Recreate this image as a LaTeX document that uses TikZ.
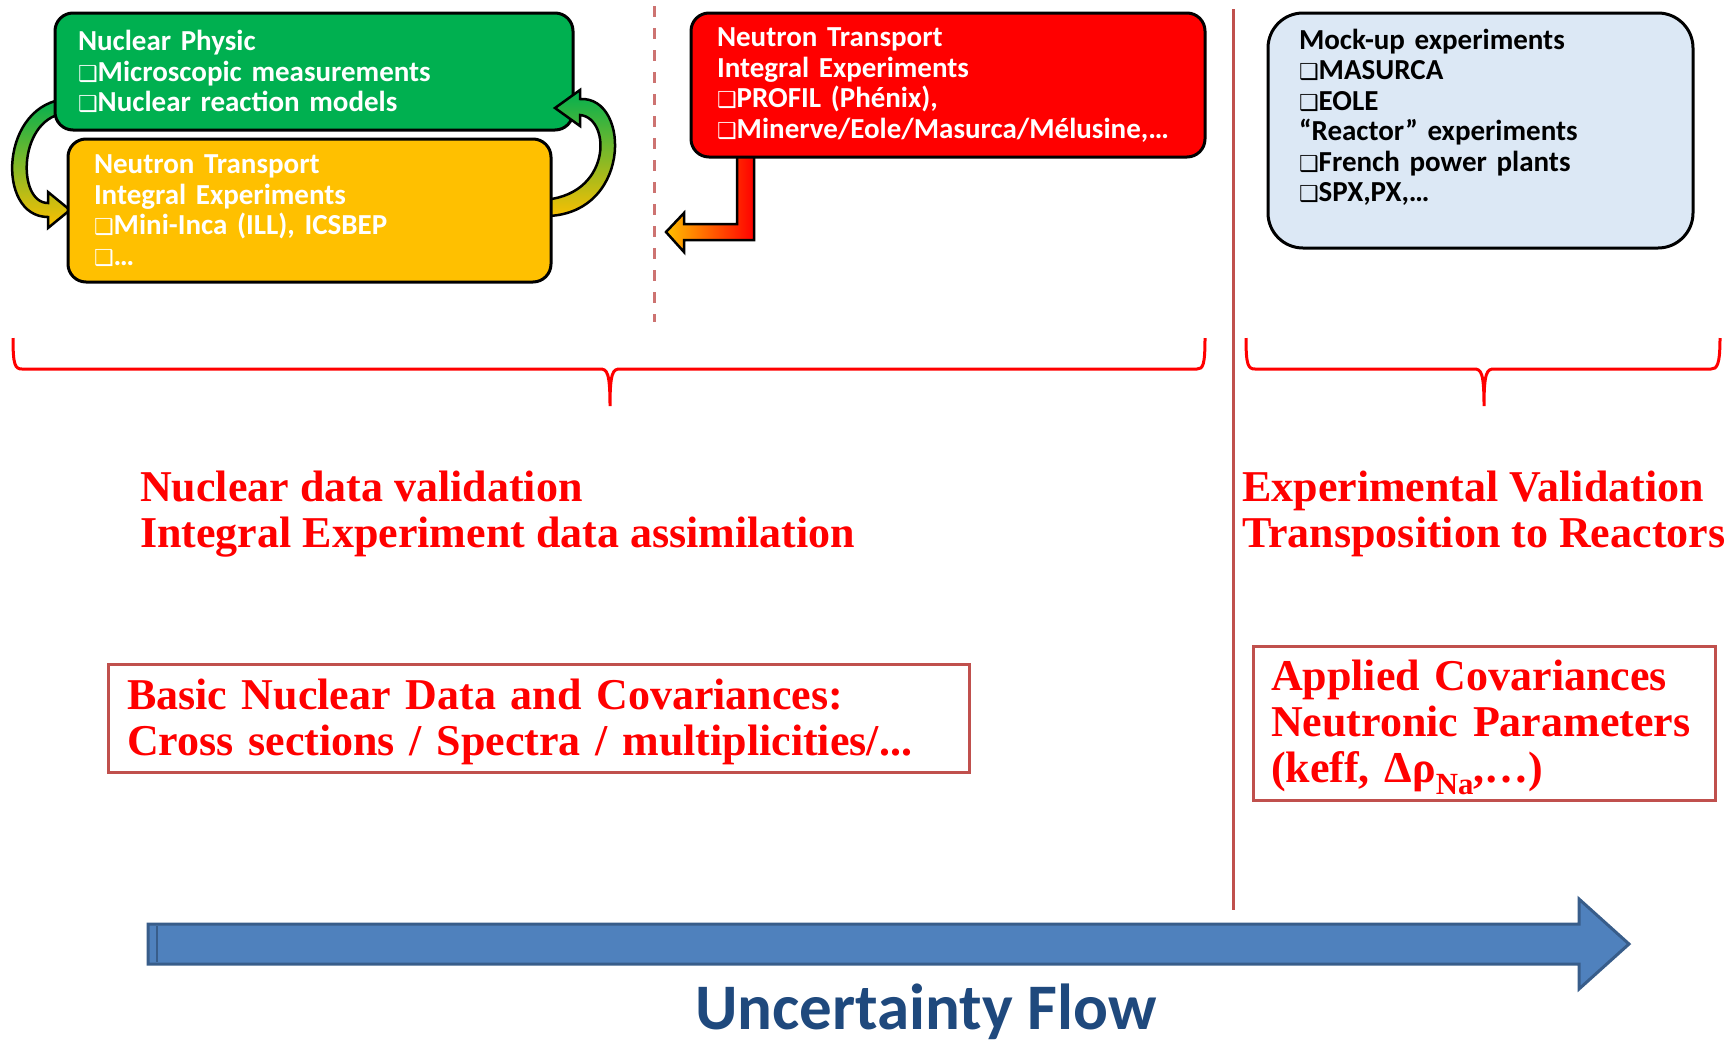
\documentclass[tikz,border=0pt]{standalone}
\usepackage{fontspec}
\setmainfont{Liberation Serif}
\newfontfamily\calfont{Carlito}
\newfontfamily\dingfont{DejaVu Sans}
\definecolor{physgreen}{RGB}{0,176,80}
\definecolor{benchyellow}{RGB}{255,192,0}
\definecolor{mockblue}{RGB}{220,232,245}
\definecolor{linered}{RGB}{192,80,77}
\definecolor{flowblue}{RGB}{79,129,189}
\definecolor{flowedge}{RGB}{56,93,138}
\definecolor{flowtext}{RGB}{31,73,125}
\newcommand\chk{{\dingfont\bfseries\fontsize{22}{22}\selectfont ❑}}
\begin{document}
\begin{tikzpicture}[x=1pt, y=-1pt,
        roundbox/.style={draw, line width=3pt, rounded corners=18pt, text=white, align=left,
            font=\calfont\bfseries\fontsize{29}{30.5}\selectfont, inner ysep=0pt},
        covbox/.style={draw=linered, line width=3pt, text=red, align=left, inner ysep=0pt,
            text height=39pt, font=\bfseries\fontsize{44}{46}\selectfont},
        redtext/.style={text=red, align=left, inner sep=0pt, anchor=west,
            font=\bfseries\fontsize{44}{46}\selectfont},
        brace/.style={draw=red, line width=3pt},
        curvearrow/.style={draw, line width=2.5pt, top color=physgreen, bottom color=benchyellow},
        sepline/.style={draw=linered, line width=3pt},
    ]
    \useasboundingbox (0,0) rectangle (1729,1042);
    % left loop arrow, tail under the green box
    \path[curvearrow] (68,99) .. controls (0,102) and (-5,217) .. (48,217) -- (48,228) -- (70,210)
        -- (48,192) -- (48,203) .. controls (16,203) and (18,115) .. (68,113) -- cycle;
    \node[roundbox, fill=physgreen, minimum width=518pt, minimum height=117pt,
        text width=472pt, inner xsep=23pt] (phys) at (314,71.5)
        {Nuclear Physic\\\chk Microscopic measurements\\\chk Nuclear reaction models};
    % right loop arrow, tail under the yellow box
    \path[curvearrow] (540,216) .. controls (632,220) and (632,96) .. (580,99) -- (580,90) -- (555,108)
        -- (580,126) -- (580,115) .. controls (612,118) and (612,198) .. (540,200) -- cycle;
    \node[roundbox, fill=benchyellow, minimum width=483pt, minimum height=143pt,
        text width=431pt, inner xsep=26pt] (bench) at (309.5,210.5)
        {Neutron Transport\\Integral Experiments\\\chk Mini-Inca (ILL), ICSBEP\\\chk\dots};
    \draw[sepline, draw=linered!80, dash pattern=on 11pt off 11pt] (654,6) -- (654,322);
    % bent arrow out of the red box
    \path[draw, line width=2.5pt, left color=benchyellow, right color=red]
        (737,150) -- (754,150) -- (754,240) -- (684,240) -- (684,252) -- (666,232)
        -- (684,213) -- (684,224) -- (737,224) -- cycle;
    \node[roundbox, fill=red, minimum width=514pt, minimum height=144pt,
        text width=462pt, inner xsep=26pt] (profil) at (948,85)
        {Neutron Transport\\Integral Experiments\\\chk PROFIL (Phénix),\\\chk Minerve/Eole/Masurca/Mélusine,\dots};
    \draw[sepline] (1233,9) -- (1233,910);
    \node[roundbox, rounded corners=35pt, fill=mockblue, text=black, minimum width=425pt,
        minimum height=235pt, text width=363pt, inner xsep=31pt, text depth=183pt] (mockup) at (1480.5,130.5)
        {Mock-up experiments\\\chk MASURCA\\\chk EOLE\\“Reactor” experiments\\\chk French power plants\\\chk SPX,PX,\dots};
    % braces
    \draw[brace] (13,338) .. controls (13,365) and (15,369) .. (22,369) -- (600,369)
        .. controls (607,369) and (610,372) .. (610,406) .. controls (610,372) and (613,369) .. (620,369)
        -- (1197,369) .. controls (1203,369) and (1205,365) .. (1205,338);
    \draw[brace] (1246,338) .. controls (1246,365) and (1248,369) .. (1255,369) -- (1474,369)
        .. controls (1481,369) and (1484,372) .. (1484,406) .. controls (1484,372) and (1487,369) .. (1494,369)
        -- (1711,369) .. controls (1717,369) and (1720,365) .. (1720,338);
    \node[redtext] (valid) at (140,514) {Nuclear data validation\\Integral Experiment data assimilation};
    \node[redtext] (transp) at (1242,514) {Experimental Validation\\Transposition to Reactors};
    \node[covbox, minimum width=861pt, minimum height=108pt, text width=823pt, inner xsep=19pt] (basic)
        at (538.5,718) {Basic Nuclear Data and Covariances:\\Cross sections / Spectra / multiplicities/...};
    \node[covbox, minimum width=462pt, minimum height=154pt, text width=426pt, inner xsep=18pt] (applied)
        at (1484,723) {Applied Covariances\\Neutronic Parameters\\(keff, Δρ\textsubscript{Na},\dots)};
    % flow arrow
    \draw[draw=flowedge, fill=flowblue, line width=3pt] (148,924) -- (1579,924) -- (1579,899) -- (1629,944)
        -- (1579,989) -- (1579,964) -- (148,964) -- cycle;
    \draw[flowedge, line width=2pt] (157,926) -- (157,962);
    \node[anchor=base, inner sep=0pt, text=flowtext, font=\calfont\bfseries\fontsize{65}{65}\selectfont]
        (flow) at (926,1029) {Uncertainty Flow};
\end{tikzpicture}
\end{document}
